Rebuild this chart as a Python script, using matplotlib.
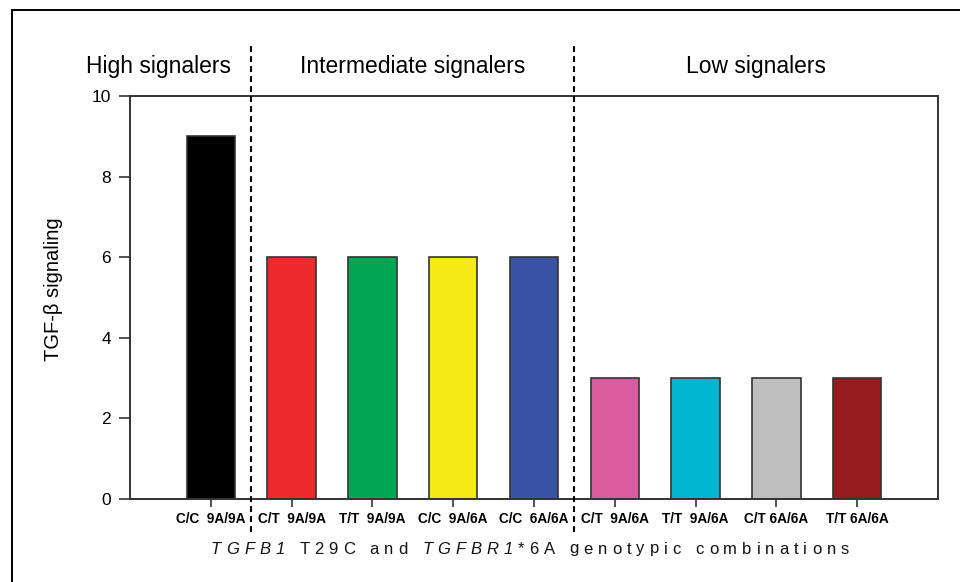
import numpy as np
import matplotlib
matplotlib.use('Agg')
import matplotlib.pyplot as plt
from matplotlib.patches import Rectangle
from matplotlib.offsetbox import TextArea, HPacker, AnchoredOffsetbox
from matplotlib.transforms import blended_transform_factory

plt.rcParams['font.family'] = ['Liberation Sans', 'DejaVu Sans']

# data
genotypes = ['C/C  9A/9A', 'C/T  9A/9A', 'T/T  9A/9A', 'C/C  9A/6A', 'C/C  6A/6A',
             'C/T  9A/6A', 'T/T  9A/6A', 'C/T 6A/6A', 'T/T 6A/6A']
signaling = [9, 6, 6, 6, 6, 3, 3, 3, 3]
bar_colors = ['#000000', '#ee2a2f', '#00a651', '#f2ea12', '#3853a4',
              '#d95ba0', '#00b5cf', '#bebebe', '#961b1e']
group_names = ['High signalers', 'Intermediate signalers', 'Low signalers']
group_sizes = [1, 4, 4]

fig = plt.figure(figsize=(9.6, 5.82), dpi=100)
ax = fig.add_axes([130/960, 1 - 499/582, 808/960, 403/582])

x = np.arange(len(genotypes))
ax.bar(x, signaling, width=0.6, color=bar_colors, edgecolor='#333333', linewidth=1.2, zorder=2)

ax.set_xlim(-1, len(genotypes))
ax.set_ylim(0, 10)
ax.set_yticks([0, 2, 4, 6, 8, 10])
ax.set_xticks(x)
ax.set_xticklabels(genotypes, fontsize=9.8, fontweight='bold')
ax.tick_params(axis='x', length=6, width=1.2, pad=3.5, color='#333333')
ax.tick_params(axis='y', length=8, width=1.2, pad=5.5, labelsize=12.5, color='#333333')
for s in ax.spines.values():
    s.set_color('#333333')
    s.set_linewidth(1.4)

ax.set_ylabel('TGF-β signaling', fontsize=14.5)
ax.yaxis.set_label_coords(-0.083, 0.52)

# group separators and headings
bounds = np.cumsum(group_sizes)[:-1] - 0.5
ax.vlines(bounds, -0.82, 11.34, colors='black', linestyles=(0, (2.8, 2.0)), linewidth=1.5,
          clip_on=False, zorder=3)
edges = np.concatenate([[-1.8], bounds, [len(genotypes)]])
trans = blended_transform_factory(ax.transData, ax.transAxes)
for i, name in enumerate(group_names):
    cx = (edges[i] + edges[i + 1]) / 2
    ax.text(cx, 1.072, name, transform=trans, ha='center', va='center', fontsize=16.5)

# x label with letter spacing and italic gene names
parts = [('TGFB1', 'italic'), (' T29C and ', 'normal'), ('TGFBR1', 'italic'),
         ('*6A genotypic combinations', 'normal')]
boxes = []
for txt, style in parts:
    for ch in txt:
        boxes.append(TextArea(ch, textprops=dict(fontsize=12, fontstyle=style, color='#111111')))
pack = HPacker(children=boxes, align='baseline', pad=0, sep=3.6)
anch = AnchoredOffsetbox(loc='center', child=pack, pad=0, borderpad=0, frameon=False,
                         bbox_to_anchor=(530/960, 1 - 549/582), bbox_transform=fig.transFigure)
fig.add_artist(anch)

# outer frame
fig.patches.append(Rectangle((12/960, -0.1), 2, 1.1 - 10/582, transform=fig.transFigure,
                             fill=False, edgecolor='black', linewidth=1.4))

fig.savefig('out.png', dpi=100)
